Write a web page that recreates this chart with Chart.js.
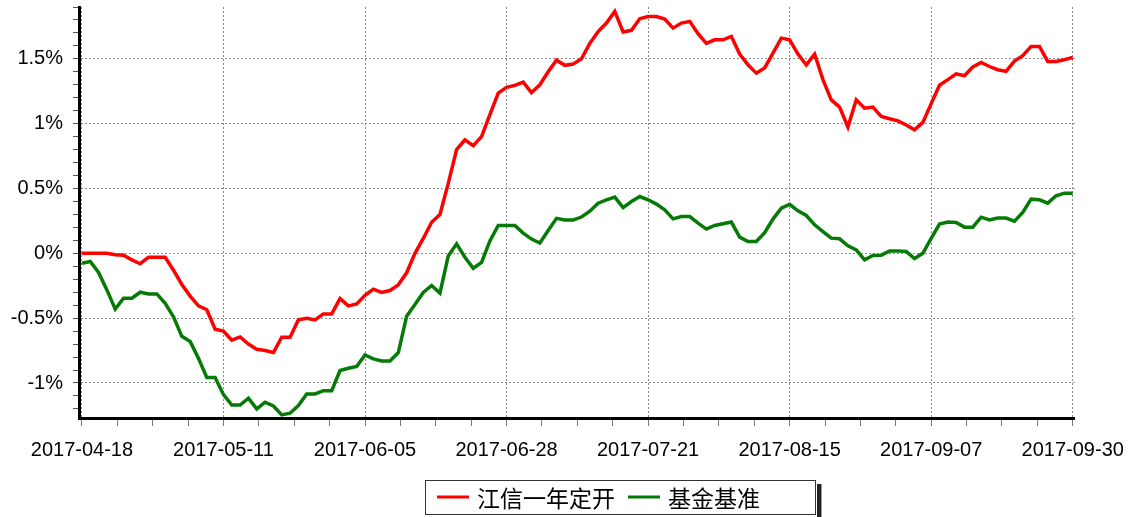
<!DOCTYPE html>
<html lang="zh">
<head>
<meta charset="utf-8">
<title>江信一年定开 / 基金基准</title>
<script src="https://cdn.jsdelivr.net/npm/chart.js@4.4.0/dist/chart.umd.min.js"></script>
<style>
  html, body { margin: 0; padding: 0; background: #fff; }
</style>
</head>
<body>
<canvas id="myChart" width="1136" height="517"></canvas>
<script>
  // trading dates (categories)
  const dates = [
    '2017-04-18','2017-04-19','2017-04-20','2017-04-21','2017-04-24','2017-04-25','2017-04-26','2017-04-27','2017-04-28',
    '2017-05-01','2017-05-02','2017-05-03','2017-05-04','2017-05-05','2017-05-08','2017-05-09','2017-05-10','2017-05-11',
    '2017-05-12','2017-05-15','2017-05-16','2017-05-17','2017-05-18','2017-05-19','2017-05-22','2017-05-23','2017-05-24',
    '2017-05-25','2017-05-26','2017-05-29','2017-05-30','2017-05-31',
    '2017-06-01','2017-06-02','2017-06-05','2017-06-06','2017-06-07','2017-06-08','2017-06-09','2017-06-12','2017-06-13',
    '2017-06-14','2017-06-15','2017-06-16','2017-06-19','2017-06-20','2017-06-21','2017-06-22','2017-06-23','2017-06-26',
    '2017-06-27','2017-06-28','2017-06-29','2017-06-30',
    '2017-07-03','2017-07-04','2017-07-05','2017-07-06','2017-07-07','2017-07-10','2017-07-11','2017-07-12','2017-07-13',
    '2017-07-14','2017-07-17','2017-07-18','2017-07-19','2017-07-20','2017-07-21','2017-07-24','2017-07-25','2017-07-26',
    '2017-07-27','2017-07-28','2017-07-31',
    '2017-08-01','2017-08-02','2017-08-03','2017-08-04','2017-08-07','2017-08-08','2017-08-09','2017-08-10','2017-08-11',
    '2017-08-14','2017-08-15','2017-08-16','2017-08-17','2017-08-18','2017-08-21','2017-08-22','2017-08-23','2017-08-24',
    '2017-08-25','2017-08-28','2017-08-29','2017-08-30','2017-08-31',
    '2017-09-01','2017-09-04','2017-09-05','2017-09-06','2017-09-07','2017-09-08','2017-09-11','2017-09-12','2017-09-13',
    '2017-09-14','2017-09-15','2017-09-18','2017-09-19','2017-09-20','2017-09-21','2017-09-22','2017-09-25','2017-09-26',
    '2017-09-27','2017-09-28','2017-09-29','2017-09-30'
  ];

  const fundName = '江信一年定开';
  const benchName = '基金基准';

  // cumulative return, %
  const fundReturn = [
    0, 0, 0, 0, -0.01, -0.015, -0.05, -0.08, -0.03, -0.03, -0.03, -0.13, -0.24, -0.33, -0.405, -0.435, -0.585, -0.60, -0.67, -0.645, -0.70, -0.74,
    -0.75, -0.765, -0.647, -0.647, -0.513, -0.50, -0.513, -0.467, -0.467, -0.349, -0.405, -0.39, -0.323, -0.276, -0.302, -0.287, -0.243, -0.15, 0.0, 0.115,
    0.24, 0.30, 0.54, 0.80, 0.876, 0.83, 0.90, 1.07, 1.236, 1.28, 1.295, 1.32, 1.24, 1.30, 1.40, 1.49, 1.45, 1.46, 1.50,
    1.62, 1.71, 1.776, 1.866, 1.707, 1.72, 1.81, 1.827, 1.827, 1.807, 1.737, 1.776, 1.789, 1.694, 1.62, 1.647, 1.647, 1.673, 1.537, 1.454, 1.39, 1.43, 1.545, 1.66, 1.647,
    1.537, 1.454, 1.537, 1.34, 1.184, 1.128, 0.974, 1.184, 1.12, 1.128, 1.056, 1.038, 1.022, 0.99, 0.953, 1.01,
    1.155, 1.297, 1.34, 1.385, 1.37, 1.437, 1.472, 1.441, 1.416, 1.403, 1.483, 1.524, 1.596, 1.596, 1.48, 1.48, 1.493, 1.511
  ];
  const benchReturn = [
    -0.076, -0.063, -0.148, -0.282, -0.43, -0.346, -0.346, -0.30, -0.313, -0.313, -0.385, -0.49, -0.64, -0.68, -0.81, -0.958, -0.958, -1.09, -1.17, -1.17, -1.117, -1.20,
    -1.148, -1.177, -1.246, -1.233, -1.174, -1.084, -1.084, -1.059, -1.059, -0.904, -0.886, -0.873, -0.783, -0.814, -0.83, -0.83, -0.765, -0.485, -0.395, -0.302,
    -0.248, -0.307, -0.02, 0.073, -0.03, -0.115, -0.07, 0.096, 0.215, 0.215, 0.215, 0.156, 0.11, 0.08, 0.176, 0.27, 0.258, 0.258, 0.28,
    0.325, 0.387, 0.413, 0.434, 0.353, 0.40, 0.438, 0.413, 0.38, 0.336, 0.266, 0.284, 0.284, 0.233, 0.187, 0.215, 0.228, 0.241, 0.125, 0.091, 0.091, 0.16, 0.264, 0.349, 0.378,
    0.328, 0.292, 0.22, 0.168, 0.117, 0.112, 0.058, 0.027, -0.05, -0.017, -0.014, 0.019, 0.019, 0.014, -0.04, 0.0,
    0.115, 0.226, 0.241, 0.238, 0.202, 0.202, 0.279, 0.258, 0.272, 0.272, 0.248, 0.315, 0.418, 0.413, 0.387, 0.444, 0.464, 0.464
  ];

  const labelEvery = 17;   // a date label every 17 points
  const minorStep = labelEvery / 4;

  const isWhole = v => Math.abs(v - Math.round(v)) < 1e-6;
  const isMajorX = v => isWhole(v) && Math.round(v) % labelEvery === 0;
  const isMajorY = v => isWhole(v * 2);
  const dotted = '#8a8a8a';

  // framed legend under the chart
  const boxLegend = {
    id: 'boxLegend',
    afterDraw(chart) {
      const ctx = chart.ctx;
      const left = 425, top = 480, w = 390, h = 34;
      ctx.save();
      ctx.fillStyle = '#222';
      ctx.fillRect(left + w + 2, top + 4, 4, h + 3);
      ctx.fillStyle = '#999';
      ctx.fillRect(left + w + 6, top + 4, 1, h + 3);
      ctx.strokeStyle = '#333';
      ctx.lineWidth = 1;
      ctx.strokeRect(left + 0.5, top + 0.5, w, h);
      ctx.font = '23px "Noto Sans CJK SC", sans-serif';
      ctx.textBaseline = 'middle';
      let x = left + 12;
      const y = top + 17;
      chart.data.datasets.forEach(ds => {
        ctx.fillStyle = ds.borderColor;
        ctx.fillRect(x, y - 1.5, 32, 3);
        ctx.fillStyle = '#000';
        ctx.fillText(ds.label, x + 40, y + 1);
        x += 40 + ctx.measureText(ds.label).width + 13;
      });
      ctx.restore();
    }
  };

  const ctx = document.getElementById('myChart').getContext('2d');
  const myChart = new Chart(ctx, {
    type: 'line',
    data: {
      labels: dates,
      datasets: [{
        label: fundName,
        data: fundReturn.map((v, i) => ({ x: i, y: v })),
        borderColor: '#ff0000',
        borderWidth: 3.5,
        pointRadius: 0,
        tension: 0
      }, {
        label: benchName,
        data: benchReturn.map((v, i) => ({ x: i, y: v })),
        borderColor: '#067a06',
        borderWidth: 3.5,
        pointRadius: 0,
        tension: 0
      }]
    },
    options: {
      responsive: false,
      animation: false,
      layout: { padding: { top: 7, right: 59, left: 0, bottom: 0 } },
      plugins: {
        legend: { display: false },
        tooltip: { enabled: false }
      },
      scales: {
        x: {
          type: 'linear',
          min: -0.35,
          max: 119.25,
          afterFit: s => { s.height = 99; },
          border: { color: '#000', width: 3, dash: [2, 2] },
          grid: {
            color: c => isMajorX(c.tick.value) ? dotted : 'rgba(0,0,0,0)',
            tickColor: '#777',
            tickLength: 8
          },
          ticks: {
            stepSize: minorStep,
            includeBounds: false,
            autoSkip: false,
            maxRotation: 0,
            padding: 12,
            color: '#000',
            font: { family: '"Liberation Sans", Arial, sans-serif', size: 20 },
            callback: v => isMajorX(v) ? dates[Math.round(v)] : ''
          }
        },
        y: {
          min: -1.27,
          max: 1.9,
          afterFit: s => { s.width = 79; s.paddingTop = 0; s.paddingBottom = 0; },
          border: { color: '#000', width: 3, dash: [2, 2] },
          grid: {
            color: c => isMajorY(c.tick.value) ? dotted : 'rgba(0,0,0,0)',
            tickColor: '#555',
            tickLength: 6
          },
          ticks: {
            stepSize: 0.1,
            includeBounds: false,
            autoSkip: false,
            padding: 10,
            color: '#000',
            font: { family: '"Liberation Sans", Arial, sans-serif', size: 20 },
            callback: v => isMajorY(v) ? (Math.round(v * 10) / 10) + '%' : ''
          }
        }
      }
    },
    plugins: [boxLegend]
  });
</script>
</body>
</html>
